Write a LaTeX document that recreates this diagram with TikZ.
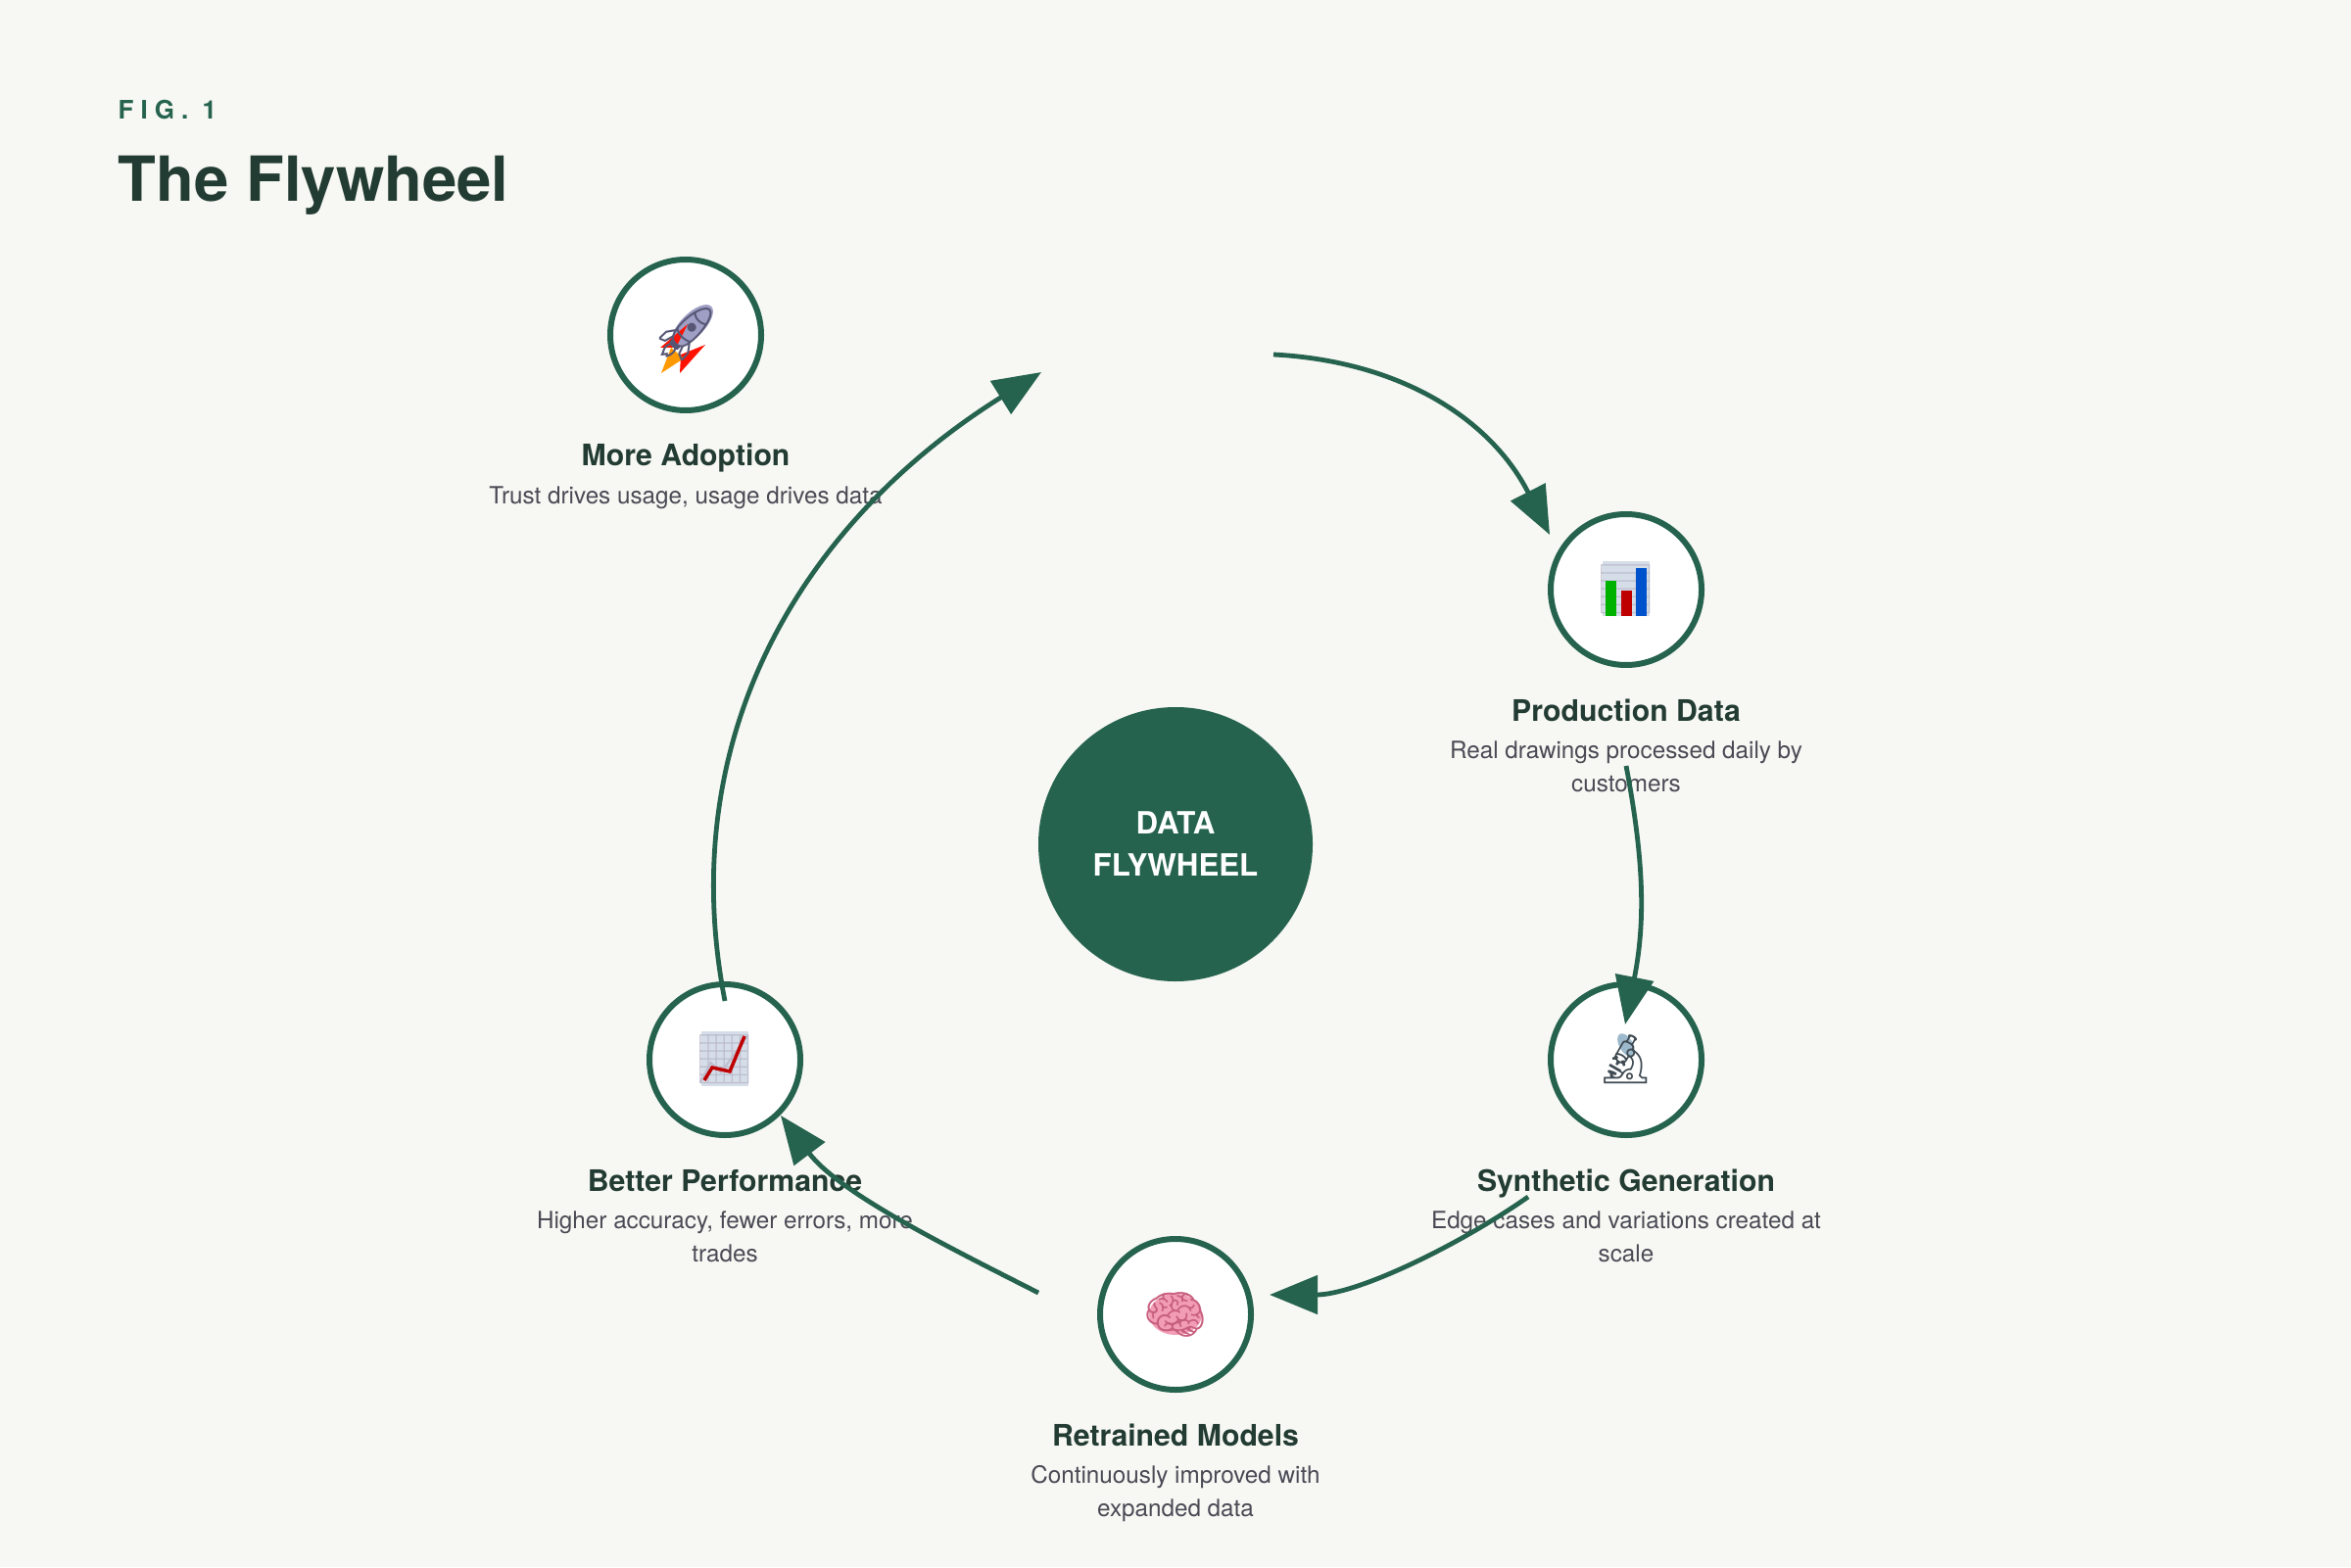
\documentclass[tikz,border=0pt]{standalone}
\usepackage{fontspec}
\setmainfont{TeX Gyre Heros}
\newfontfamily\emojifont{Noto Emoji}
\usetikzlibrary{arrows.meta}
\definecolor{wheelgreen}{HTML}{25634F}
\definecolor{darkgreen}{HTML}{233C33}
\definecolor{descgray}{HTML}{4A4A55}
\definecolor{paper}{HTML}{F7F7F3}
\definecolor{tilegray}{HTML}{D5DEE8}
\definecolor{brainpink}{HTML}{F29DB5}
\definecolor{brainline}{HTML}{C8607F}
\definecolor{steelblue}{HTML}{9DB9CC}
\tikzset{
  stepcircle/.style={circle, draw=wheelgreen, fill=white, line width=0.06cm, minimum size=1.54cm, inner sep=0pt},
  stepicon/.style={inner sep=0pt, font=\emojifont\fontsize{14}{16}\selectfont},
  steptitle/.style={anchor=base, inner sep=0pt, text=darkgreen, font=\bfseries\fontsize{8.6}{10}\selectfont},
  stepdesc/.style={anchor=base, inner sep=0pt, align=center, text=descgray, font=\fontsize{6.9}{9.67}\selectfont},
  flow/.style={draw=wheelgreen, line width=0.048cm, -{Triangle[length=0.49cm,width=0.39cm]}},
}
\begin{document}
\begin{tikzpicture}
        \useasboundingbox (0,0) rectangle (24,-16);
        \fill[paper] (0,0) rectangle (24,-16);

        % Heading
        \node(figlabel) [anchor=base west, inner sep=0pt, text=wheelgreen, font=\bfseries\fontsize{7.4}{9}\selectfont\addfontfeature{LetterSpace=27}] at (1.2,-1.22) {FIG. 1};
        \node(heading) [anchor=base west, inner sep=0pt, text=darkgreen, font=\bfseries\fontsize{18.07}{22}\selectfont] at (1.2,-2.06) {The Flywheel};

        % Nodes
        \node(hub) [circle, fill=wheelgreen, minimum size=2.8cm, inner sep=0pt, align=center, text=white, font=\bfseries\fontsize{8.9}{12.2}\selectfont] at (12,-8.62) {DATA\\FLYWHEEL};
        \node(adoption) [stepcircle] at (7,-3.42) {};
        \node(production) [stepcircle] at (16.6,-6.02) {};
        \node(synthetic) [stepcircle] at (16.6,-10.82) {};
        \node(retrained) [stepcircle] at (12,-13.42) {};
        \node(performance) [stepcircle] at (7.4,-10.82) {};

        % Icon colours under the glyphs
        \fill[tilegray] (16.36,-5.73) rectangle (16.84,-6.29);
        \fill[tilegray] (7.16,-10.53) rectangle (7.64,-11.09);
        \fill[brainpink] (12,-13.42) ellipse (0.27 and 0.21);
        \fill[steelblue, rotate around={-60:(16.6,-10.67)}] (16.6,-10.67) ellipse (0.13 and 0.07);
        \fill[blue!25!gray!60, rotate around={45:(7.07,-3.32)}] (7.07,-3.32) ellipse (0.27 and 0.12);
        \fill[red!85!orange] (6.74,-3.55) -- (7.02,-3.31) -- (6.9,-3.55) -- cycle;
        \fill[red!85!orange] (6.94,-3.81) -- (7.2,-3.52) -- (6.95,-3.62) -- cycle;
        \fill[orange!80!yellow] (6.75,-3.81) -- (6.85,-3.55) -- (6.98,-3.66) -- cycle;

        % Icons
        \node(adoptionicon) [stepicon, text=blue!15!gray!80!black, font=\emojifont\fontsize{15.5}{16}\selectfont] at (7,-3.42) {🚀};
        \node(productionicon) [stepicon, text=blue!15!gray!45] at (16.6,-6.02) {📊};
        \node(syntheticicon) [stepicon, text=black!60!steelblue] at (16.6,-10.82) {🔬};
        \node(retrainedicon) [stepicon, text=brainline, font=\emojifont\fontsize{15}{16}\selectfont] at (12,-13.42) {🧠};
        \node(performanceicon) [stepicon, text=blue!15!gray!45] at (7.4,-10.82) {📈};

        % Bars and line of the two charts
        \fill[green!70!black] (16.39,-5.93) rectangle (16.5,-6.29);
        \fill[red!75!black] (16.55,-6.03) rectangle (16.66,-6.29);
        \fill[blue!60!cyan!80!black] (16.7,-5.8) rectangle (16.81,-6.29);
        \draw[red!75!black, line width=0.035cm] (7.19,-11.03) -- (7.27,-10.9) -- (7.45,-10.94) -- (7.6,-10.58);

        % Labels
        \node(adoptiontitle) [steptitle] at (7,-4.76) {More Adoption};
        \node(adoptiondesc) [stepdesc] at (7,-5.14) {Trust drives usage, usage drives data};
        \node(productiontitle) [steptitle] at (16.6,-7.36) {Production Data};
        \node(productiondesc) [stepdesc] at (16.6,-8.08) {Real drawings processed daily by\\customers};
        \node(synthetictitle) [steptitle] at (16.6,-12.16) {Synthetic Generation};
        \node(syntheticdesc) [stepdesc] at (16.6,-12.88) {Edge cases and variations created at\\scale};
        \node(retrainedtitle) [steptitle] at (12,-14.76) {Retrained Models};
        \node(retraineddesc) [stepdesc] at (12,-15.48) {Continuously improved with\\expanded data};
        \node(performancetitle) [steptitle] at (7.4,-12.16) {Better Performance};
        \node(performancedesc) [stepdesc] at (7.4,-12.88) {Higher accuracy, fewer errors, more\\trades};

        % Free ends
        \coordinate (start1) at (13,-3.62);
        \coordinate (tip1) at (15.82,-5.46);
        \coordinate (start2) at (16.6,-7.82);
        \coordinate (tip2) at (16.59,-10.46);
        \coordinate (start3) at (15.6,-12.22);
        \coordinate (tip3) at (12.96,-13.22);
        \coordinate (start4) at (10.6,-13.2);
        \coordinate (tip4) at (7.97,-11.39);
        \coordinate (start5) at (7.4,-10.22);
        \coordinate (tip5) at (10.63,-3.8);

        % Edges
        \draw[flow] (start1) to[out=-3, in=117] (tip1);
        \draw[flow] (start2) to[bend left=11] (tip2);
        \draw[flow] (start3) to[out=215, in=0, looseness=0.8] (tip3);
        \draw[flow] (start4) to[out=153, in=307, looseness=0.8] (tip4);
        \draw[flow] (start5) to[out=101, in=212, looseness=1] (tip5);

\end{tikzpicture}
\end{document}
